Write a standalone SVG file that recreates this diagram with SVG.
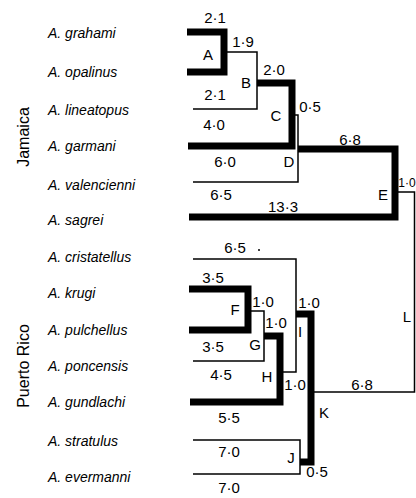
<svg xmlns="http://www.w3.org/2000/svg" width="416" height="498" viewBox="0 0 416 498">
<style>
.bg{fill:#fff}
.sp{font-family:"Liberation Sans",Arial,sans-serif;font-style:italic;font-size:14px;fill:#000}
.rg{font-family:"Liberation Sans",Arial,sans-serif;font-size:16px;fill:#000}
.lb{font-family:"Liberation Sans",Arial,sans-serif;font-size:15px;fill:#000;text-anchor:middle}
.thick{fill:none;stroke:#000;stroke-width:7;stroke-linejoin:miter}
.thin{fill:none;stroke:#000;stroke-width:1.5;stroke-linejoin:miter}
</style>
<rect class="bg" x="0" y="0" width="416" height="498"/>

<text class="rg" transform="translate(29,137) rotate(-90)" text-anchor="middle">Jamaica</text>
<text class="rg" transform="translate(29,366) rotate(-90)" text-anchor="middle">Puerto Rico</text>

<g id="node-grahami"><text class="sp" x="48" y="38">A. grahami</text></g>
<g id="node-opalinus"><text class="sp" x="48" y="77">A. opalinus</text></g>
<g id="node-lineatopus"><text class="sp" x="48" y="115">A. lineatopus</text></g>
<g id="node-garmani"><text class="sp" x="48" y="151">A. garmani</text></g>
<g id="node-valencienni"><text class="sp" x="48" y="190">A. valencienni</text></g>
<g id="node-sagrei"><text class="sp" x="48" y="225">A. sagrei</text></g>
<g id="node-cristatellus"><text class="sp" x="48" y="262">A. cristatellus</text></g>
<g id="node-krugi"><text class="sp" x="48" y="298">A. krugi</text></g>
<g id="node-pulchellus"><text class="sp" x="48" y="335">A. pulchellus</text></g>
<g id="node-poncensis"><text class="sp" x="48" y="371">A. poncensis</text></g>
<g id="node-gundlachi"><text class="sp" x="48" y="407">A. gundlachi</text></g>
<g id="node-stratulus"><text class="sp" x="48" y="446">A. stratulus</text></g>
<g id="node-evermanni"><text class="sp" x="48" y="482">A. evermanni</text></g>

<g id="connectors">
<path class="thick" d="M187,32 H224 V72 H187"/>
<path class="thin" d="M227,52 H257 V109 H193"/>
<path class="thick" d="M257,83 H292 V146 H188"/>
<path class="thin" d="M295,115 H298 V182 H193"/>
<path class="thick" d="M298,149 H395 V217 H189"/>
<path class="thin" d="M398,192 H414.5 V392 H314"/>
<path class="thick" d="M189,289 H248 V330 H189"/>
<path class="thin" d="M251,311 H264 V361 H193"/>
<path class="thick" d="M264,336 H280 V402 H190"/>
<path class="thin" d="M193,259 H296 V372 H283"/>
<path class="thick" d="M296,314 H311 V462 H300"/>
<path class="thin" d="M193,440 H300 V474 H193"/>
<circle cx="259" cy="250" r="1" fill="#000"/>
</g>

<g id="branch-lengths">
<text class="lb" x="215" y="23">2·1</text>
<text class="lb" x="243" y="47">1·9</text>
<text class="lb" x="215" y="100">2·1</text>
<text class="lb" x="214" y="130">4·0</text>
<text class="lb" x="274" y="75">2·0</text>
<text class="lb" x="310" y="112">0·5</text>
<text class="lb" x="225" y="167">6·0</text>
<text class="lb" x="221" y="200">6·5</text>
<text class="lb" x="283" y="212">13·3</text>
<text class="lb" x="350" y="145">6·8</text>
<text class="lb" x="407" y="187" style="font-size:12px">1·0</text>
<text class="lb" x="235" y="253">6·5</text>
<text class="lb" x="213" y="283">3·5</text>
<text class="lb" x="263" y="307">1·0</text>
<text class="lb" x="213" y="352">3·5</text>
<text class="lb" x="276" y="328">1·0</text>
<text class="lb" x="221" y="380">4·5</text>
<text class="lb" x="295" y="390">1·0</text>
<text class="lb" x="309" y="308">1·0</text>
<text class="lb" x="229" y="423">5·5</text>
<text class="lb" x="362" y="390">6·8</text>
<text class="lb" x="229" y="457">7·0</text>
<text class="lb" x="317" y="477">0·5</text>
<text class="lb" x="229" y="493">7·0</text>
</g>

<g id="node-A"><text class="lb" x="208" y="60">A</text></g>
<g id="node-B"><text class="lb" x="246" y="88">B</text></g>
<g id="node-C"><text class="lb" x="276" y="121">C</text></g>
<g id="node-D"><text class="lb" x="289" y="167">D</text></g>
<g id="node-E"><text class="lb" x="383" y="200">E</text></g>
<g id="node-F"><text class="lb" x="235" y="315">F</text></g>
<g id="node-G"><text class="lb" x="255" y="350">G</text></g>
<g id="node-H"><text class="lb" x="267" y="382">H</text></g>
<g id="node-I"><text class="lb" x="300" y="337">I</text></g>
<g id="node-J"><text class="lb" x="291" y="463">J</text></g>
<g id="node-K"><text class="lb" x="324" y="418">K</text></g>
<g id="node-L"><text class="lb" x="407" y="322">L</text></g>
</svg>
